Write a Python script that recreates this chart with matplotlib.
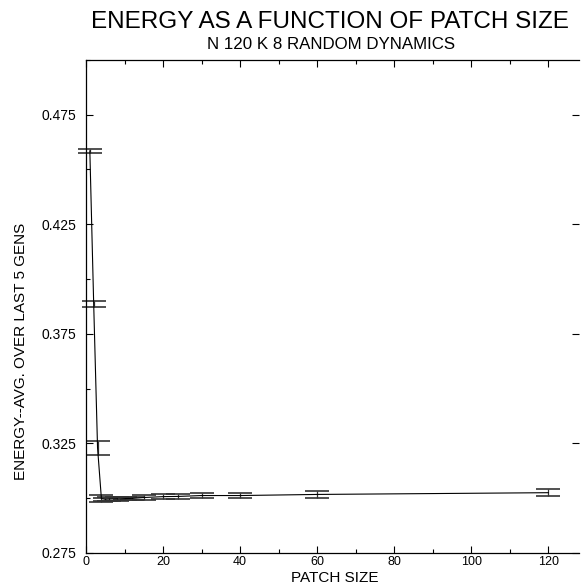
import matplotlib
matplotlib.use('Agg')
import matplotlib.pyplot as plt
from matplotlib.ticker import MultipleLocator, FixedLocator

plt.rcParams['font.family'] = ['Liberation Sans', 'DejaVu Sans']

# patch sizes (divisors of N=120) and energy averages with error
patch_size = [1, 2, 3, 4, 5, 6, 8, 10, 12, 15, 20, 24, 30, 40, 60, 120]
energy = [0.4585, 0.3885, 0.3230, 0.2998, 0.2995, 0.2996, 0.2997, 0.2998,
          0.2999, 0.3003, 0.3007, 0.3008, 0.3012, 0.3012, 0.3017, 0.3025]
energy_err = [0.0010, 0.0014, 0.0033, 0.0015, 0.0008, 0.0008, 0.0008, 0.0008,
              0.0008, 0.0010, 0.0010, 0.0010, 0.0010, 0.0010, 0.0017, 0.0015]
y_major = [0.275, 0.325, 0.375, 0.425, 0.475]

fig = plt.figure(figsize=(5.81, 5.87), dpi=100)
ax = fig.add_axes([0.148, 0.058, 0.849, 0.84])

ax.errorbar(patch_size, energy, yerr=energy_err, color='black', linewidth=0.8,
            elinewidth=0.9, capsize=8.5, capthick=1.2, ecolor='#333333',
            clip_on=False)

ax.set_xlim(0, 128)
ax.set_ylim(0.275, 0.5)
ax.xaxis.set_major_locator(MultipleLocator(20))
ax.xaxis.set_minor_locator(MultipleLocator(10))
ax.yaxis.set_major_locator(FixedLocator(y_major))
ax.yaxis.set_minor_locator(MultipleLocator(0.025))
ax.set_yticklabels([f'{v:.3f}' for v in y_major])

# inward ticks; right side only gets short major ticks
ax.tick_params(which='both', direction='in', top=True, right=True, width=0.8)
ax.tick_params(which='major', length=5)
ax.tick_params(which='minor', length=3)
ax.tick_params(axis='y', which='minor', right=False)
ax.tick_params(axis='x', labelsize=9, pad=2)
ax.tick_params(axis='y', labelsize=10, pad=7)
ax.spines['right'].set_visible(False)
for s in ['left', 'bottom', 'top']:
    ax.spines[s].set_linewidth(0.9)

ax.set_xlabel('PATCH SIZE', fontsize=11)
ax.set_ylabel('ENERGY--AVG. OVER LAST 5 GENS', fontsize=11)
ax.xaxis.set_label_coords(0.505, -0.036)
ax.yaxis.set_label_coords(-0.118, 0.408)

fig.text(0.568, 0.963, 'ENERGY AS A FUNCTION OF PATCH SIZE', fontsize=17.5,
         ha='center', va='center')
fig.text(0.570, 0.925, 'N 120 K 8 RANDOM DYNAMICS', fontsize=12.2,
         ha='center', va='center')

fig.savefig('out.png', dpi=100)
